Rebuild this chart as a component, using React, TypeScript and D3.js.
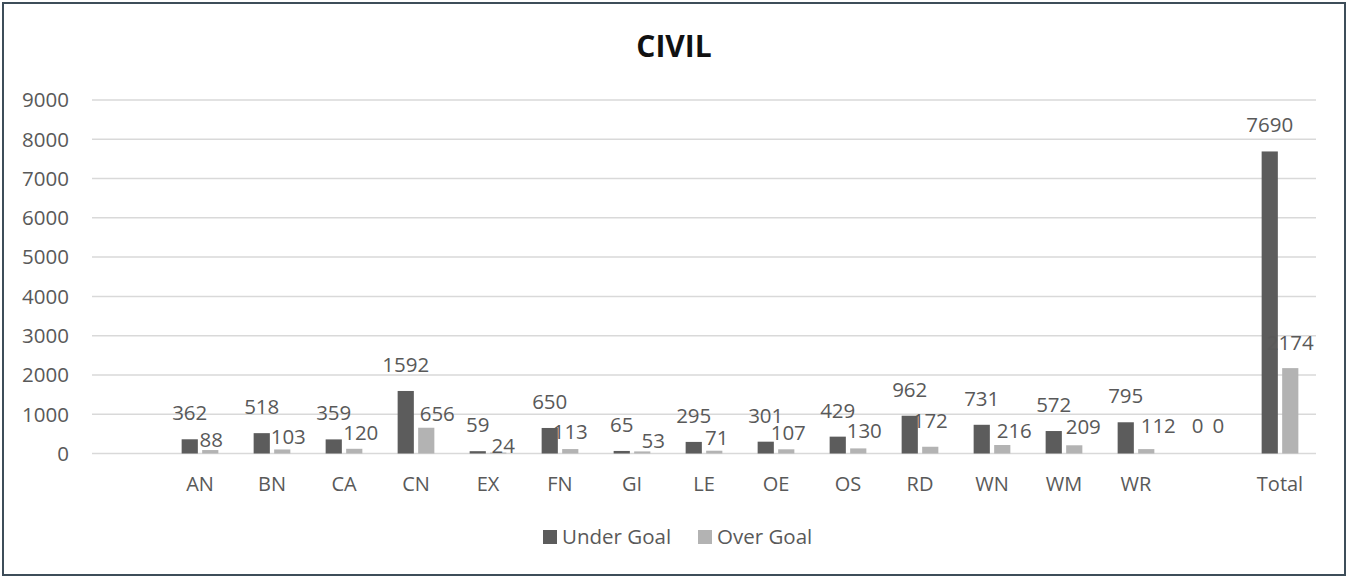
import React from "react";
import * as d3 from "d3";

const categories = ["", "AN", "BN", "CA", "CN", "EX", "FN", "GI", "LE", "OE", "OS", "RD", "WN", "WM", "WR", "", "Total"];
const underGoal: (number | null)[] = [null, 362, 518, 359, 1592, 59, 650, 65, 295, 301, 429, 962, 731, 572, 795, 0, 7690];
const overGoal: (number | null)[] = [null, 88, 103, 120, 656, 24, 113, 53, 71, 107, 130, 172, 216, 209, 112, 0, 2174];
const yTicks = [0, 1000, 2000, 3000, 4000, 5000, 6000, 7000, 8000, 9000];
const seriesNames = ["Under Goal", "Over Goal"];
const title = "CIVIL";

// label nudges (Excel moved some "Over Goal" labels to avoid overlaps) [dx, dy]
const overLabelNudge: [number, number][] = [
  [0, 0], [1, 16], [6, 13.5], [6.5, 10], [11, 12], [5, 19], [0, 9], [11, 16], [2.5, 13.3],
  [2, 10], [6, 9], [0, 0], [12, 12], [9, 8], [12, 3], [0, -1.5], [0, 1],
];

const W = 1348;
const H = 577;
const FONT = "'Open Sans', 'Noto Sans', sans-serif";
const TEXT = "#595959";
const DARK = "#5c5c5c";
const LIGHT = "#b3b3b3";
const GRID = "#d9d9d9";

export default function App() {
  const x = d3.scaleBand<number>().domain(d3.range(categories.length)).range([92, 1316]).paddingInner(0).paddingOuter(0);
  const y = d3.scaleLinear().domain([0, 9000]).range([453.5, 100]);
  const step = x.step();
  const bw = step * 0.225;
  const gap = step * 0.06;
  const cx = (i: number) => (x(i) as number) + step / 2;

  return (
    <svg width={W} height={H} style={{ position: "absolute", left: 0, top: 0, background: "#fff" }} fontFamily={FONT}>
      <rect x={0} y={0} width={W} height={H} fill="#fff" />
      <rect x={3} y={3} width={1342} height={572} fill="none" stroke="#3d4d59" strokeWidth={2} />
      <text x={674} y={57} textAnchor="middle" fontSize={30} fontWeight={700} fill="#111">{title}</text>

      {yTicks.map((t) => (
        <g key={t}>
          <line x1={92} x2={1316} y1={y(t)} y2={y(t)} stroke={GRID} strokeWidth={1.5} />
          <text x={69} y={y(t) + 7.3} textAnchor="end" fontSize={20.5} fill={TEXT}>{t}</text>
        </g>
      ))}

      {categories.map((c, i) => (
        <text key={"c" + i} x={cx(i)} y={491} textAnchor="middle" fontSize={20} fill={TEXT}>{c}</text>
      ))}

      {underGoal.map((v, i) =>
        v == null ? null : (
          <g key={"u" + i}>
            <rect x={cx(i) - gap / 2 - bw} y={y(v)} width={bw} height={y(0) - y(v)} fill={DARK} />
          </g>
        )
      )}
      {overGoal.map((v, i) =>
        v == null ? null : (
          <g key={"o" + i}>
            <rect x={cx(i) + gap / 2} y={y(v)} width={bw} height={y(0) - y(v)} fill={LIGHT} />
          </g>
        )
      )}
      {underGoal.map((v, i) =>
        v == null ? null : (
          <text key={"ul" + i} x={cx(i) - gap / 2 - bw / 2} y={y(v) - 19 + (v === 0 ? -1.5 : 0)} textAnchor="middle" fontSize={20.5} fill={TEXT}>{v}</text>
        )
      )}
      {overGoal.map((v, i) =>
        v == null ? null : (
          <text key={"ol" + i} x={cx(i) + gap / 2 + bw / 2 + overLabelNudge[i][0]} y={y(v) - 19 + overLabelNudge[i][1]} textAnchor="middle" fontSize={20.5} fill={TEXT}>{v}</text>
        )
      )}

      <g>
        <rect x={543} y={530} width={14} height={14} fill={DARK} />
        <text x={562} y={544} fontSize={20.5} fill={TEXT}>{seriesNames[0]}</text>
        <rect x={698} y={530} width={14} height={14} fill={LIGHT} />
        <text x={717} y={544} fontSize={20.5} fill={TEXT}>{seriesNames[1]}</text>
      </g>
    </svg>
  );
}
